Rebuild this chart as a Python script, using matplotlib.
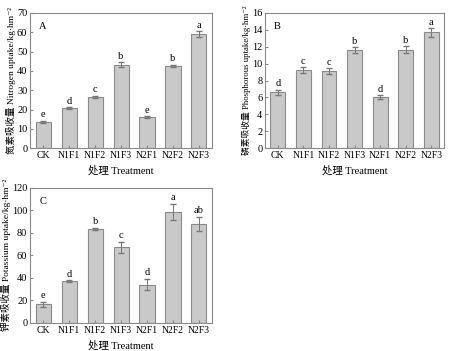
import matplotlib.pyplot as plt
import numpy as np

plt.rcParams['font.family'] = ['Liberation Serif', 'Noto Sans CJK SC', 'DejaVu Serif']

treatments = ["CK", "N1F1", "N1F2", "N1F3", "N2F1", "N2F2", "N2F3"]

n_uptake = [13.5, 20.8, 26.7, 43.3, 16.0, 42.6, 59.0]
n_err = [0.5, 0.4, 0.5, 1.2, 0.4, 0.6, 1.5]
n_letters = ["e", "d", "c", "b", "e", "b", "a"]

p_uptake = [6.6, 9.2, 9.1, 11.6, 6.05, 11.65, 13.7]
p_err = [0.3, 0.35, 0.35, 0.35, 0.2, 0.4, 0.5]
p_letters = ["d", "c", "c", "b", "d", "b", "a"]

k_uptake = [16.5, 37.0, 83.5, 67.0, 34.0, 98.5, 88.0]
k_err = [2.0, 1.0, 1.0, 5.0, 5.0, 7.0, 6.0]
k_letters = ["e", "d", "b", "c", "d", "a", "ab"]

EDGE = "#8a8a8a"


def panel(ax, vals, errs, letters, ymax, step, tag, ylabel, ysize=6.8):
    x = np.arange(len(treatments))
    ax.bar(x, vals, width=0.58, color="#c9c9c9", edgecolor=EDGE, linewidth=0.8,
           yerr=errs, error_kw=dict(ecolor="#777777", elinewidth=0.7, capsize=2))
    for xi, v, e, t in zip(x, vals, errs, letters):
        ax.text(xi, v + e + ymax * 0.012, t, ha="center", va="bottom", fontsize=7.5)
    ax.set_xlim(-0.5, len(treatments) - 0.5)
    ax.set_ylim(0, ymax)
    ax.set_yticks(np.arange(0, ymax + 0.1, step))
    ax.set_xticks(x)
    ax.set_xticklabels(treatments)
    ax.tick_params(direction="in", labelsize=7.5, length=2.5, color=EDGE, pad=2)
    ax.tick_params(axis="x", labelsize=7)
    for s in ax.spines.values():
        s.set_color(EDGE)
    ax.text(0.05, 0.93, tag, transform=ax.transAxes, fontsize=7.5, va="top")
    ax.set_ylabel(ylabel, fontsize=ysize, labelpad=1)
    ax.set_xlabel("处理 Treatment", fontsize=7.5, labelpad=4)


fig = plt.figure(figsize=(4.5, 3.51), dpi=100)
ax_a = fig.add_axes([0.067, 0.578, 0.404, 0.385])
ax_b = fig.add_axes([0.589, 0.578, 0.398, 0.385])
ax_c = fig.add_axes([0.067, 0.080, 0.404, 0.385])

panel(ax_a, n_uptake, n_err, n_letters, 70, 10, "A", "氮素吸收量 Nitrogen uptake/kg·hm⁻²")
panel(ax_b, p_uptake, p_err, p_letters, 16, 2, "B", "磷素吸收量 Phosphorous uptake/kg·hm⁻²", ysize=6.3)
panel(ax_c, k_uptake, k_err, k_letters, 120, 20, "C", "钾素吸收量 Potassium uptake/kg·hm⁻²")

fig.savefig("out.png", dpi=100)
